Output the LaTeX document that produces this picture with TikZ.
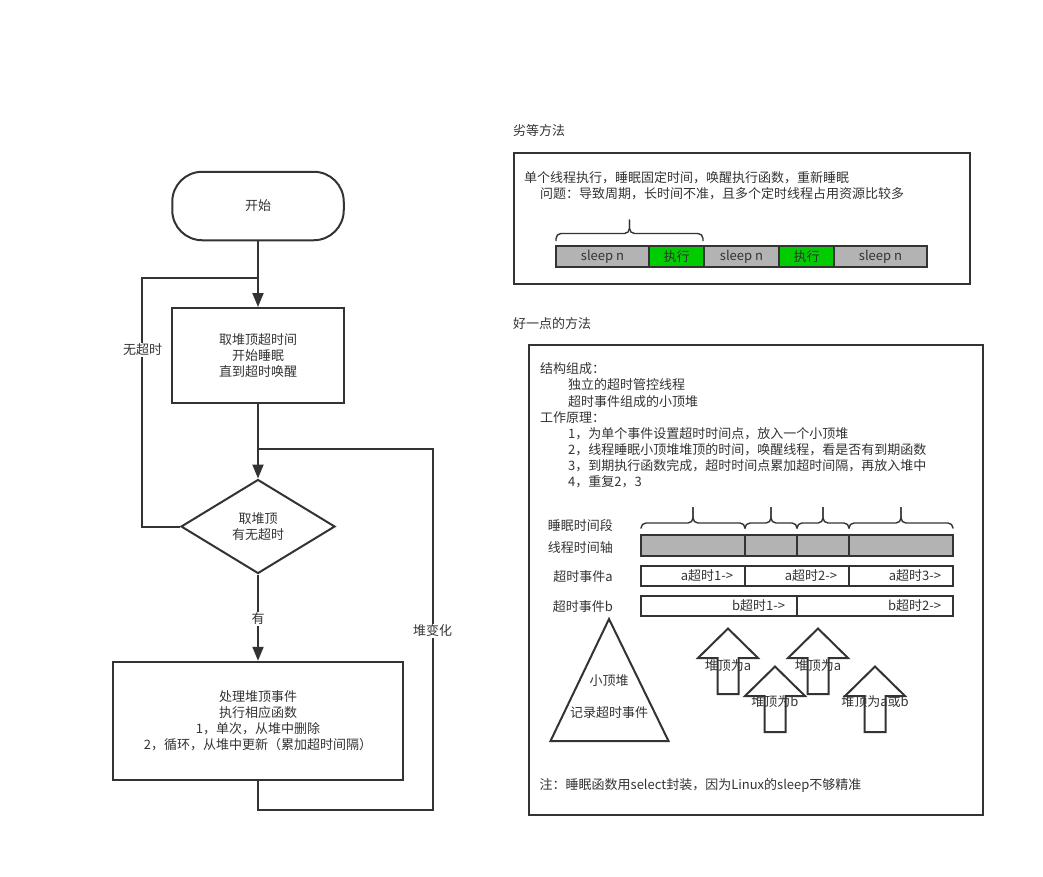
\documentclass[tikz,border=0pt]{standalone}
\usepackage{fontspec}
\setmainfont{Noto Sans CJK SC}
\usepackage{tikz}
\usepackage{xcolor}
\definecolor{inkgray}{HTML}{333333}
\definecolor{sleepgray}{HTML}{B3B3B3}
\definecolor{rungreen}{HTML}{00CC00}
\tikzset{every node/.style={text=inkgray,font=\fontsize{13}{16}\selectfont},
 link/.style={draw=inkgray,line width=2pt},
 arrow/.style={link,-{Triangle[length=14pt,width=11pt]}},
 flow/.style={link,align=center,inner sep=0pt},
 startbox/.style={flow,rounded corners=30pt,minimum width=171.5pt,minimum height=68.5pt},
 stepbox/.style={flow,minimum width=171.5pt,minimum height=95pt},
 choice/.style={flow,diamond,minimum width=154pt,minimum height=94pt},
 lbl/.style={fill=white,inner sep=1pt},
 txt/.style={anchor=west,inner sep=0pt},
 seg/.style={link,inner sep=0pt,outer sep=0pt,minimum height=21pt},
 evseg/.style={seg,align=right,minimum height=20.5pt},
 curly/.style={draw=inkgray,line width=1.4pt,rounded corners=5pt},
 heaparrow/.style={link,fill=white},
 }
\usetikzlibrary{shapes.geometric}
\usetikzlibrary{arrows.meta}

\begin{document}
\begin{tikzpicture}[x=1pt,y=-1pt]
        \useasboundingbox (0,0) rectangle (1043,876);
        \node[startbox] (start) at (258,206) {开始};
        \node[stepbox] (take) at (258,355.5) {取堆顶超时间\\开始睡眠\\直到超时唤醒};
        \node[choice] (check) at (258,526.5) {取堆顶\\有无超时};
        \node[stepbox,minimum width=290pt,minimum height=118.5pt] (handle) at (258,721) {处理堆顶事件\\执行相应函数\\1，单次，从堆中删除\\2，循环，从堆中更新（累加超时间隔）};
        \coordinate (join1) at (258,277.5);
        \coordinate (join2) at (258,448.5);
        \draw[arrow] (start) -- (take);
        \draw[arrow] (take) -- (check);
        \draw[arrow] (check) -- (handle);
        \draw[link] (check.west) -- ++(-38,0) |- (join1);
        \draw[link] (handle.south) |- (432.5,809.5) |- (join2);
        \node[lbl] (nolabel) at (142.5,350) {无超时};
        \node[lbl] (yeslabel) at (258,619) {有};
        \node[lbl] (changelabel) at (432.5,631) {堆变化};

        \node[txt] (badtitle) at (513,131) {劣等方法};
        \draw[link] (514,153) rectangle (969.5,284);
        \node[txt] (badline1) at (524,178) {单个线程执行，睡眠固定时间，唤醒执行函数，重新睡眠};
        \node[txt] (badline2) at (540,193.5) {问题：导致周期，长时间不准，且多个定时线程占用资源比较多};
        \draw[curly] (556,241) -- (556,233.5) -- (629.5,233.5) -- (629.5,219.5);
        \draw[curly] (629.5,219.5) -- (629.5,233.5) -- (703,233.5) -- (703,241);
        \node[seg,fill=sleepgray,minimum width=93pt] (s1) at (602.5,256.5) {sleep n};
        \node[seg,fill=rungreen,minimum width=55pt] (r1) at (676.5,256.5) {执行};
        \node[seg,fill=sleepgray,minimum width=75pt] (s2) at (741.5,256.5) {sleep n};
        \node[seg,fill=rungreen,minimum width=55pt] (r2) at (806.5,256.5) {执行};
        \node[seg,fill=sleepgray,minimum width=93pt] (s3) at (880.5,256.5) {sleep n};

        \node[txt] (goodtitle) at (513,324) {好一点的方法};
        \draw[link] (529,345) rectangle (982.5,815);
        \node[txt] (part) at (540,368.5) {结构组成：};
        \node[txt] (part1) at (568,385) {独立的超时管控线程};
        \node[txt] (part2) at (568,401.5) {超时事件组成的小顶堆};
        \node[txt] (work) at (540,418) {工作原理：};
        \node[txt] (work1) at (568,434) {1，为单个事件设置超时时间点，放入一个小顶堆};
        \node[txt] (work2) at (568,450) {2，线程睡眠小顶堆堆顶的时间，唤醒线程，看是否有到期函数};
        \node[txt] (work3) at (568,466) {3，到期执行函数完成，超时时间点累加超时间隔，再放入堆中};
        \node[txt] (work4) at (568,481.5) {4，重复2，3};

        \node[anchor=east,inner sep=0pt] (sleeplabel) at (613,526) {睡眠时间段};
        \node[anchor=east,inner sep=0pt] (axislabel) at (613,548) {线程时间轴};
        \node[anchor=east,inner sep=0pt] (alabel) at (613,577) {超时事件a};
        \node[anchor=east,inner sep=0pt] (blabel) at (613,607) {超时事件b};
        \foreach \a/\m/\b in {641/693/745, 745/771/797, 797/823/849, 849/901/953} {
            \draw[curly] (\a,528.5) -- (\a,523) -- (\m,523) -- (\m,507);
            \draw[curly] (\m,507) -- (\m,523) -- (\b,523) -- (\b,528.5);
        }
        \node[seg,fill=sleepgray,minimum width=104pt] (t1) at (693,545.5) {};
        \node[seg,fill=sleepgray,minimum width=52pt] (t2) at (771,545.5) {};
        \node[seg,fill=sleepgray,minimum width=52pt] (t3) at (823,545.5) {};
        \node[seg,fill=sleepgray,minimum width=104pt] (t4) at (901,545.5) {};
        \node[evseg,minimum width=104pt,text width=80pt] (a1) at (693,576) {a超时1->};
        \node[evseg,minimum width=104pt,text width=80pt] (a2) at (797,576) {a超时2->};
        \node[evseg,minimum width=104pt,text width=80pt] (a3) at (901,576) {a超时3->};
        \node[evseg,minimum width=156pt,text width=132pt] (b1) at (719,606) {b超时1->};
        \node[evseg,minimum width=156pt,text width=132pt] (b2) at (875,606) {b超时2->};

        \draw[link] (609,619) -- (668.5,741) -- (550.5,741) -- cycle;
        \node (heapname) at (609,680.5) {小顶堆};
        \node (heapnote) at (609,713) {记录超时事件};
        \foreach \x/\y in {728/628.5, 818/628.5, 775/666.5, 875/666.5}
            \draw[heaparrow] (\x,\y) -- ++(30,29.5) -- ++(-19.5,0) -- ++(0,36) -- ++(-21,0) -- ++(0,-36) -- ++(-19.5,0) -- cycle;
        \node (top1) at (728,666) {堆顶为a};
        \node (top2) at (818,666) {堆顶为a};
        \node (top3) at (775,702) {堆顶为b};
        \node (top4) at (875,702) {堆顶为a或b};
        \node[txt] (footnote) at (539.5,785) {注：睡眠函数用select封装，因为Linux的sleep不够精准};
    \end{tikzpicture}
\end{document}
